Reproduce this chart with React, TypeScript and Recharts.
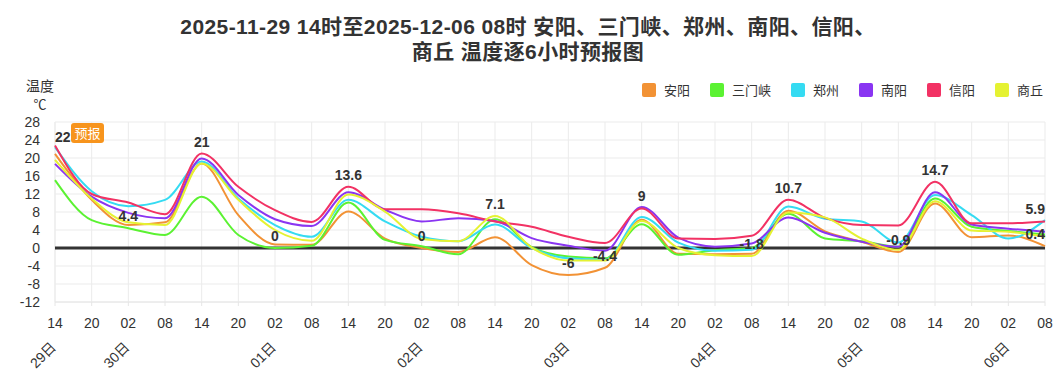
import { LineChart, Line, XAxis, YAxis, CartesianGrid, ReferenceLine, LabelList } from 'recharts'

// 逐6小时时次
const hours = ['14', '20', '02', '08', '14', '20', '02', '08', '14', '20', '02', '08', '14', '20', '02', '08', '14', '20', '02', '08', '14', '20', '02', '08', '14', '20', '02', '08']
const days = ['29日', '', '30日', '', '', '', '01日', '', '', '', '02日', '', '', '', '03日', '', '', '', '04日', '', '', '', '05日', '', '', '', '06日', '']

const anyang = [20.9, 10.7, 5.1, 5.7, 18.8, 7.3, 0.8, 0.7, 8.1, 2.1, 0, -0.9, 2.4, -3.8, -6, -4.4, 6.3, -1.3, -1.4, -1.3, 8.3, 3.7, 1.4, -0.9, 9.9, 2.4, 2.8, 0.4]
const sanmenxia = [15.1, 6.2, 4.4, 2.9, 11.4, 2.9, 0, 0.5, 10.1, 1.8, 0.4, -1.4, 6.4, 0.2, -1.9, -2.3, 5.3, -1.5, -0.5, 0, 7.6, 2.1, 1.5, 0.3, 11.0, 4.7, 3.8, 3.0]
const zhengzhou = [22.4, 12.6, 9.3, 10.7, 19.2, 11.0, 5.1, 2.5, 10.7, 5.9, 2.5, 1.5, 5.2, 0, -2.3, -2.6, 6.9, 1.2, -0.6, -0.4, 9.2, 6.5, 5.9, 1.2, 11.8, 7.3, 2.1, 6.2]
const nanyang = [18.7, 11.4, 7.8, 6.6, 19.9, 11.8, 6.4, 4.9, 12.4, 8.5, 5.9, 6.6, 6.0, 2.2, 0.5, -0.6, 9.1, 2.3, 0.3, 1.0, 6.8, 3.4, 1.4, 0.3, 12.4, 5.2, 4.3, 3.6]
const xinyang = [22.8, 12.0, 10.1, 7.5, 21.0, 13.6, 8.4, 5.8, 13.6, 8.6, 8.6, 7.7, 5.9, 4.7, 2.5, 1.1, 8.8, 2.1, 2.0, 2.7, 10.7, 6.7, 5.1, 5.0, 14.7, 5.5, 5.5, 5.9]
const shangqiu = [19.6, 11.0, 5.7, 5.1, 18.8, 10.7, 4.0, 1.6, 11.9, 8.1, 2.0, 1.5, 7.1, 0.1, -2.8, -2.8, 6.0, 0, -1.6, -1.8, 7.9, 6.8, 2.1, -0.4, 10.4, 3.9, 3.6, 2.5]

// 极值标注
const maxLabels = [22, null, null, null, 21, null, null, null, 13.6, null, null, null, 7.1, null, null, null, 9, null, null, null, 10.7, null, null, null, 14.7, null, null, 5.9]
const minLabels = [null, null, 4.4, null, null, null, 0, null, null, null, 0, null, null, null, -6, -4.4, null, null, null, -1.8, null, null, null, -0.9, null, null, null, 0.4]

const yTicks = [-12, -8, -4, 0, 4, 8, 12, 16, 20, 24, 28]

const SERIES = [
  { name: '安阳', values: anyang, color: '#f29235' },
  { name: '三门峡', values: sanmenxia, color: '#5bf232' },
  { name: '郑州', values: zhengzhou, color: '#35dbf2' },
  { name: '南阳', values: nanyang, color: '#8a35f2' },
  { name: '信阳', values: xinyang, color: '#f23264' },
  { name: '商丘', values: shangqiu, color: '#e5f232' },
]

const data = hours.map((h, i) => {
  const row: Record<string, any> = { idx: i, hour: h, maxLabel: maxLabels[i], minLabel: minLabels[i] }
  SERIES.forEach((s) => { row[s.name] = s.values[i] })
  return row
})

const FONT = '"Liberation Sans", Arial, "Noto Sans CJK SC", sans-serif'
const CJK = '"Noto Sans CJK SC", sans-serif'

const TimeTick = (props: any) => {
  const { x, y, payload } = props
  const i = payload.value as number
  return (
    <g>
      <text x={x} y={y + 22} textAnchor="middle" fill="#333" fontSize={14} fontFamily={FONT}>
        {hours[i]}
      </text>
      {days[i] && (
        <text
          transform={`translate(${x + 2},${y + 42}) rotate(-45)`}
          textAnchor="end"
          fill="#333"
          fontSize={14}
          fontFamily={FONT}
        >
          {days[i]}
        </text>
      )}
    </g>
  )
}

const ValueLabel = (props: any) => {
  const { x, y, value } = props
  if (value == null || x == null || y == null) return null
  const anchor = x < 60 ? 'start' : x > 1040 ? 'end' : 'middle'
  return (
    <text x={x} y={y - 7} textAnchor={anchor} fill="#333" fontSize={14} fontWeight="bold" fontFamily={FONT}>
      {value}
    </text>
  )
}

export default function App() {
  return (
    <div style={{ position: 'absolute', left: 0, top: 0, width: 1056, height: 388, background: '#fff', fontFamily: FONT }}>
      <div style={{ position: 'absolute', left: 0, top: 14, width: 1056, textAlign: 'center', fontSize: 21, letterSpacing: 0.4, fontWeight: 'bold', color: '#333', lineHeight: '25px', fontFamily: FONT }}>
        <div>2025-11-29 14时至2025-12-06 08时 安阳、三门峡、郑州、南阳、信阳、</div>
        <div>商丘 温度逐6小时预报图</div>
      </div>
      <div style={{ position: 'absolute', left: 20, top: 77, width: 40, textAlign: 'center', fontSize: 14, color: '#333', lineHeight: '16px', fontFamily: CJK }}>
        温度
      </div>
      <div style={{ position: 'absolute', left: 20, top: 96, width: 40, textAlign: 'center', fontSize: 13, color: '#333', lineHeight: '15px', fontFamily: CJK }}>
        ℃
      </div>
      <div style={{ position: 'absolute', left: 642, top: 80, display: 'flex', alignItems: 'center', fontSize: 13, color: '#333', fontFamily: CJK, whiteSpace: 'nowrap' }}>
        {SERIES.map((s) => (
          <div key={s.name} style={{ display: 'flex', alignItems: 'center', marginRight: 20 }}>
            <span style={{ display: 'inline-block', width: 14, height: 14, background: s.color, borderRadius: 2, marginRight: 8 }} />
            <span>{s.name}</span>
          </div>
        ))}
      </div>
      <LineChart width={1056} height={388} data={data} margin={{ top: 122, right: 11, bottom: 16, left: 10 }}>
        <CartesianGrid stroke="#ebebeb" />
        <XAxis
          dataKey="idx"
          type="category"
          interval={0}
          height={70}
          tick={<TimeTick />}
          tickSize={4}
          tickMargin={0}
          axisLine={{ stroke: '#e6e6e6' }}
          tickLine={{ stroke: '#e6e6e6' }}
        />
        <YAxis
          domain={[-12, 28]}
          ticks={yTicks}
          interval={0}
          width={45}
          tickSize={0}
          tickMargin={15}
          axisLine={false}
          tick={{ fill: '#333', fontSize: 14, fontFamily: FONT }}
        />
        <ReferenceLine y={0} stroke="#333" strokeWidth={3} />
        {SERIES.map((s) => (
          <Line
            key={s.name}
            type="monotone"
            dataKey={s.name}
            stroke={s.color}
            strokeWidth={2}
            dot={false}
            activeDot={false}
            isAnimationActive={false}
          />
        ))}
        <Line dataKey="maxLabel" stroke="none" dot={false} activeDot={false} legendType="none" isAnimationActive={false}>
          <LabelList dataKey="maxLabel" content={<ValueLabel />} />
        </Line>
        <Line dataKey="minLabel" stroke="none" dot={false} activeDot={false} legendType="none" isAnimationActive={false}>
          <LabelList dataKey="minLabel" content={<ValueLabel />} />
        </Line>
      </LineChart>
      <div style={{ position: 'absolute', left: 71, top: 123, width: 33, height: 20, background: '#f7941d', color: '#fff', borderRadius: 3, fontSize: 13, lineHeight: '20px', textAlign: 'center', fontFamily: CJK }}>
        预报
      </div>
    </div>
  )
}
